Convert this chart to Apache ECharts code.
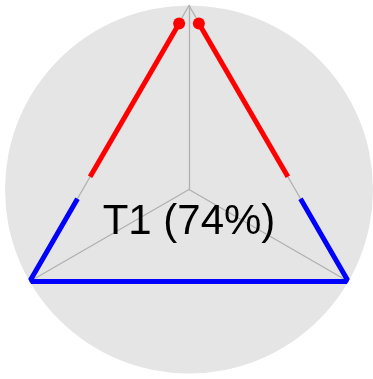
<!DOCTYPE html>
<html>
<head>
<meta charset="utf-8">
<script src="https://cdn.jsdelivr.net/npm/echarts@6/dist/echarts.min.js"></script>
<style>
  html, body { margin: 0; padding: 0; background: #fff; }
  #main { width: 373px; height: 379px; }
</style>
</head>
<body>
<div id="main"></div>
<script>
// three corners of the plot (radar indicators), all at full scale
var indicators = ['A', 'B', 'C'];
var outline = [100, 100, 100];

// edge segments, as [radius, angle] in the polar system (angle 90 = top)
var bluePath = [[60.8, 184.7], [100, 210], [100, 330], [60.8, 355.3]];
var redLeft = [[54.2, 172.6], [90.4, 93.4]];
var redRight = [[54.2, 7.4], [90.4, 86.6]];
var redDots = [[90.4, 93.4], [90.4, 86.6]];

var label = 'T1 (74%)';

var chart = echarts.init(document.getElementById('main'));
var center = [189, 189.5];
var R = 184;

var option = {
  animation: false,
  radar: {
    center: center,
    radius: R,
    shape: 'circle',
    splitNumber: 1,
    startAngle: 90,
    indicator: indicators.map(function (n) { return { name: n, max: 100 }; }),
    axisName: { show: false },
    splitLine: { show: false },
    splitArea: { show: true, areaStyle: { color: ['#e5e5e5'] } },
    axisLine: { lineStyle: { color: '#b0b0b0', width: 1.3 } }
  },
  polar: { center: center, radius: R },
  angleAxis: {
    type: 'value', min: 0, max: 360, startAngle: 0, clockwise: false, show: false
  },
  radiusAxis: { type: 'value', min: 0, max: 100, show: false },
  graphic: [{
    type: 'text',
    x: 189,
    y: 222,
    style: {
      text: label,
      fill: '#000',
      font: '42px "Liberation Sans", Arial, sans-serif',
      textAlign: 'center',
      textVerticalAlign: 'middle'
    },
    z: 100
  }],
  series: [
    {
      type: 'radar',
      symbol: 'none',
      lineStyle: { color: '#b0b0b0', width: 1.3 },
      data: [{ value: outline }]
    },
    {
      type: 'line', coordinateSystem: 'polar', symbol: 'none',
      lineStyle: { color: '#0000ff', width: 5, cap: 'butt', join: 'miter' },
      data: bluePath
    },
    {
      type: 'line', coordinateSystem: 'polar', symbol: 'none',
      lineStyle: { color: '#ff0000', width: 5, cap: 'butt' },
      data: redLeft
    },
    {
      type: 'line', coordinateSystem: 'polar', symbol: 'none',
      lineStyle: { color: '#ff0000', width: 5, cap: 'butt' },
      data: redRight
    },
    {
      type: 'scatter', coordinateSystem: 'polar', symbolSize: 12,
      itemStyle: { color: '#ff0000', opacity: 1 },
      data: redDots
    }
  ]
};
chart.setOption(option);
</script>
</body>
</html>
